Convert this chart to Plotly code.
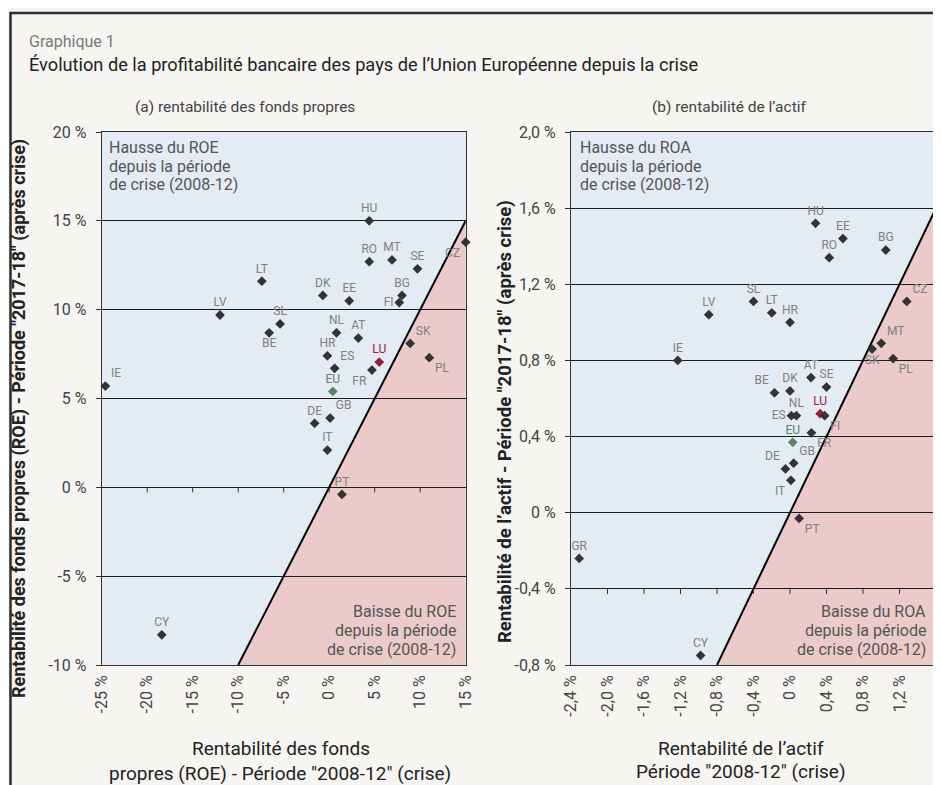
import plotly.graph_objects as go

# ---------------- DATA ----------------
pays_roe = ["HU", "RO", "MT", "SE", "LT", "DK", "BG", "CZ", "EE", "FI", "LV", "SL", "BE", "NL",
            "AT", "SK", "HR", "PL", "LU", "ES", "FR", "IE", "EU", "DE", "GB", "IT", "PT", "CY"]
roe_crise = [4.4, 4.4, 6.9, 9.7, -7.4, -0.7, 8.0, 15.0, 2.2, 7.7, -12.0, -5.4, -6.6, 0.8,
             3.2, 8.9, -0.2, 11.0, 5.5, 0.6, 4.7, -24.6, 0.4, -1.6, 0.1, -0.2, 1.4, -18.4]
roe_apres = [15.0, 12.7, 12.8, 12.3, 11.6, 10.8, 10.8, 13.8, 10.5, 10.4, 9.7, 9.2, 8.7, 8.7,
             8.4, 8.1, 7.4, 7.3, 7.05, 6.7, 6.6, 5.7, 5.4, 3.6, 3.9, 2.1, -0.4, -8.3]
pos_roe = ["top center", "top center", "top center", "top center", "top center", "top center",
           "top center", "bottom left", "top center", "middle left", "top center", "top center",
           "bottom center", "top center", "top center", "top right", "top center", "bottom right",
           "top center", "top right", "bottom left", "top right", "top center", "top center",
           "top right", "top center", "top center", "top center"]

pays_roa = ["HU", "EE", "RO", "BG", "CZ", "SL", "LV", "LT", "HR", "MT", "SK", "PL", "IE", "AT",
            "SE", "BE", "DK", "ES", "NL", "LU", "FI", "FR", "EU", "GB", "DE", "IT", "PT", "GR", "CY"]
roa_crise = [0.28, 0.58, 0.43, 1.05, 1.28, -0.40, -0.89, -0.20, 0.00, 1.00, 0.90, 1.13, -1.23, 0.23,
             0.40, -0.17, 0.00, 0.015, 0.07, 0.33, 0.38, 0.235, 0.03, 0.04, -0.05, 0.01, 0.10, -2.31, -0.98]
roa_apres = [1.52, 1.44, 1.34, 1.38, 1.11, 1.11, 1.04, 1.05, 1.00, 0.89, 0.86, 0.81, 0.80, 0.71,
             0.66, 0.63, 0.64, 0.51, 0.51, 0.52, 0.51, 0.42, 0.37, 0.26, 0.23, 0.17, -0.03, -0.24, -0.75]
pos_roa = ["top center", "top center", "top center", "top center", "top right", "top center",
           "top center", "top center", "top center", "top right", "bottom center", "bottom right",
           "top center", "top center", "top center", "top left", "top center", "middle left",
           "top center", "top center", "bottom right", "bottom right", "top center", "top right",
           "top left", "bottom left", "bottom right", "top center", "top center"]

roe_xticks = [-25, -20, -15, -10, -5, 0, 5, 10, 15]
roe_xlabels = ["-25 %", "-20 %", "-15 %", "-10 %", "-5 %", "0 %", "5 %", "10 %", "15 %"]
roe_yticks = [-10, -5, 0, 5, 10, 15, 20]
roe_ylabels = ["-10 %", "-5 %", "0 %", "5 %", "10 %", "15 %", "20 %"]
roe_range_x = [-25, 15]
roe_range_y = [-10, 20]
roe_cross = 0

roa_xticks = [-2.4, -2.0, -1.6, -1.2, -0.8, -0.4, 0, 0.4, 0.8, 1.2, 1.6]
roa_xlabels = ["-2,4 %", "-2,0 %", "-1,6 %", "-1,2 %", "-0,8 %", "-0,4 %", "0 %", "0,4 %",
               "0,8 %", "1,2 %", "1,6 %"]
roa_yticks = [-0.8, -0.4, 0, 0.4, 0.8, 1.2, 1.6, 2.0]
roa_ylabels = ["-0,8 %", "-0,4 %", "0 %", "0,4 %", "0,8 %", "1,2 %", "1,6 %", "2,0 %"]
roa_range_x = [-2.4, 1.6]
roa_range_y = [-0.8, 2.0]
roa_cross = -0.4

zone_haut = ["Hausse du {k}", "depuis la période", "de crise (2008-12)"]
zone_bas = ["Baisse du {k}", "depuis la période", "de crise (2008-12)"]

# ---------------- STYLE ----------------
FONT = "Roboto, Open Sans, sans-serif"
OFF = 8                      # page body margin of the html page
W, H = 941 - OFF, 785 - OFF  # figure size so that it fills the window
PAPER = "#f6f5f1"
BLUE = "#e3ebf5"
PINK = "#ebcaca"
DARK = "#333333"
LABEL = "#808080"
LU_COL = "#9b1b3a"
EU_COL = "#61806c"

def px_x(p):
    return (p - OFF) / W

def px_y(p):
    return 1 - (p - OFF) / H

PLOT_TOP, PLOT_BOT = 132, 665
PLOT_H = PLOT_BOT - PLOT_TOP
dom_y = [px_y(PLOT_BOT), px_y(PLOT_TOP)]
dom_x1 = [px_x(101.7), px_x(465.7)]
dom_x2 = [px_x(571), px_x(936)]

fig = go.Figure()
shapes = []

def colour(c, base):
    if c == "LU":
        return LU_COL
    if c == "EU":
        return EU_COL
    return base

def add_panel(xa, ya, pays, xs, ys, pos, rx, ry, cross, xticks):
    lo = max(rx[0], ry[0])
    hi = min(rx[1], ry[1])
    shapes.append(dict(type="path", xref=xa, yref=ya, layer="below",
                       path=f"M {lo},{lo} L {hi},{hi} L {rx[1]},{hi} L {rx[1]},{ry[0]} Z",
                       fillcolor=PINK, line=dict(width=0)))
    for t in xticks[1:-1]:
        shapes.append(dict(type="line", xref=xa, yref=ya, ysizemode="pixel", yanchor=cross,
                           x0=t, x1=t, y0=0, y1=-5, line=dict(color=DARK, width=1)))
    fig.add_trace(go.Scatter(x=[lo, hi], y=[lo, hi], mode="lines", xaxis=xa, yaxis=ya,
                             line=dict(color="#000000", width=2), hoverinfo="skip",
                             showlegend=False, cliponaxis=False))
    fig.add_trace(go.Scatter(x=xs, y=ys, mode="markers+text", text=pays, textposition=pos,
                             xaxis=xa, yaxis=ya, showlegend=False, cliponaxis=False,
                             marker=dict(symbol="diamond", size=7.5,
                                         color=[colour(c, DARK) for c in pays]),
                             textfont=dict(family=FONT, size=12,
                                           color=[colour(c, LABEL) for c in pays])))

add_panel("x", "y", pays_roe, roe_crise, roe_apres, pos_roe, roe_range_x, roe_range_y,
          roe_cross, roe_xticks)
add_panel("x2", "y2", pays_roa, roa_crise, roa_apres, pos_roa, roa_range_x, roa_range_y,
          roa_cross, roa_xticks)

xtickfont = dict(family=FONT, size=16, color="#444444")
ytickfont = dict(family=FONT, size=16, color="#444444")

def xaxis(dom, rng, tv, tt, anchor):
    return dict(domain=dom, range=rng, tickvals=tv, ticktext=tt, tickangle=-90,
                showgrid=False, zeroline=False, showline=True, mirror=True,
                linecolor=DARK, linewidth=1, ticks="", tickfont=xtickfont,
                ticklabelstandoff=3, anchor=anchor, fixedrange=True, automargin=False)

def yaxis(dom, rng, tv, tt, anchor):
    return dict(domain=dom, range=rng, tickvals=tv, ticktext=tt,
                showgrid=True, gridcolor="#1a1a1a", gridwidth=1, zeroline=False,
                showline=True, mirror=True, linecolor=DARK, linewidth=1,
                ticks="outside", ticklen=5, tickcolor=DARK, tickfont=ytickfont,
                ticklabelstandoff=6, anchor=anchor, fixedrange=True, automargin=False)

# page frame
shapes.append(dict(type="rect", xref="paper", yref="paper", layer="above",
                   x0=px_x(10.5), x1=px_x(938), y0=-0.05, y1=px_y(13),
                   line=dict(color="#2e2e2e", width=2.5), fillcolor="rgba(0,0,0,0)"))

ann = []
def txt(text, x, y, size, color, xanchor="left", yanchor="middle", angle=0, weight="normal",
        xref="paper", yref="paper", align="left"):
    ann.append(dict(text=text, x=x, y=y, xref=xref, yref=yref, xanchor=xanchor,
                    yanchor=yanchor, showarrow=False, textangle=angle, align=align,
                    font=dict(family=FONT, size=size, color=color, weight=weight)))

txt("Graphique 1", px_x(27), px_y(42), 16, "#7a7a7a")
txt("Évolution de la profitabilité bancaire des pays de l’Union Européenne depuis la crise",
    px_x(27), px_y(65), 18.2, "#222222")
txt("(a) rentabilité des fonds propres", px_x(245), px_y(107), 15.5, "#444444", xanchor="center")
txt("(b) rentabilité de l’actif", px_x(729), px_y(107), 15.5, "#444444", xanchor="center")

txt("Rentabilité des fonds propres (ROE) - Période \"2017-18\" (après crise)",
    px_x(19), px_y(419), 18, "#222222", xanchor="center", angle=-90, weight="bold")
txt("Rentabilité de l’actif - Période \"2017-18\" (après crise)",
    px_x(505), px_y(422), 18.5, "#222222", xanchor="center", angle=-90, weight="bold")

txt("Rentabilité des fonds", px_x(281), px_y(748), 19, "#222222", xanchor="center")
txt("propres (ROE) - Période \"2008-12\" (crise)", px_x(280), px_y(773), 19, "#222222",
    xanchor="center")
txt("Rentabilité de l’actif", px_x(741), px_y(748), 19, "#222222", xanchor="center")
txt("Période \"2008-12\" (crise)", px_x(741), px_y(771), 19, "#222222", xanchor="center")

offs_haut = [15, 34, 52.5]
offs_bas = [53, 34, 15]
for xr, yr, k, pad_l, pad_r in (("x domain", "y domain", "ROE", 5.6, 7.5),
                                ("x2 domain", "y2 domain", "ROA", 6.7, 8)):
    pw = 364 if k == "ROE" else 365
    for line, off in zip(zone_haut, offs_haut):
        txt(line.format(k=k), pad_l / pw, 1 - off / PLOT_H, 16, "#555555",
            xref=xr, yref=yr)
    for line, off in zip(zone_bas, offs_bas):
        txt(line.format(k=k), 1 - pad_r / pw, off / PLOT_H, 16, "#555555",
            xanchor="right", xref=xr, yref=yr, align="right")

fig.update_layout(
    width=W, height=H, margin=dict(l=0, r=0, t=0, b=0, autoexpand=False),
    paper_bgcolor=PAPER, plot_bgcolor=BLUE,
    font=dict(family=FONT, color="#333333"),
    separators=", ",
    xaxis=xaxis(dom_x1, roe_range_x, roe_xticks, roe_xlabels, "y"),
    yaxis=yaxis(dom_y, roe_range_y, roe_yticks, roe_ylabels, "x"),
    xaxis2=xaxis(dom_x2, roa_range_x, roa_xticks, roa_xlabels, "y2"),
    yaxis2=yaxis(dom_y, roa_range_y, roa_yticks, roa_ylabels, "x2"),
    shapes=shapes, annotations=ann, showlegend=False,
)

fig.write_html("out.html", config={"displayModeBar": False})
